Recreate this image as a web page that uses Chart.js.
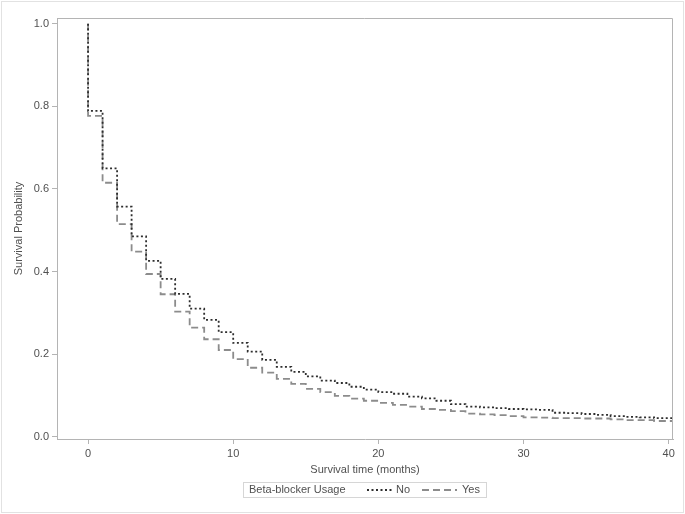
<!DOCTYPE html>
<html>
<head>
<meta charset="utf-8">
<script src="https://cdn.jsdelivr.net/npm/chart.js@4"></script>
<style>
    html, body { margin: 0; padding: 0; background: #fff; }
    #wrap { width: 685px; height: 514px; position: relative; }
</style>
</head>
<body>
<div id="wrap"><canvas id="kmChart" width="685" height="514"></canvas></div>
<script>
// Survival data, one value per month after that month's drop
const months = [0, 1, 2, 3, 4, 5, 6, 7, 8, 9, 10, 11, 12, 13, 14, 15, 16, 17, 18, 19, 20,
    21, 22, 23, 24, 25, 26, 27, 28, 29, 30, 31, 32, 33, 34, 35, 36, 37, 38, 39, 40.3];
const survNo = [0.789, 0.650, 0.557, 0.485, 0.426, 0.382, 0.346, 0.310, 0.283, 0.253, 0.227,
    0.206, 0.186, 0.169, 0.157, 0.146, 0.136, 0.130, 0.121, 0.114, 0.108,
    0.104, 0.097, 0.093, 0.087, 0.079, 0.073, 0.071, 0.069, 0.067, 0.066,
    0.065, 0.058, 0.057, 0.055, 0.053, 0.050, 0.048, 0.047, 0.045, 0.045];
const survYes = [0.777, 0.615, 0.515, 0.448, 0.394, 0.345, 0.303, 0.264, 0.236, 0.210, 0.188,
    0.167, 0.155, 0.140, 0.128, 0.116, 0.108, 0.099, 0.092, 0.087, 0.082,
    0.077, 0.073, 0.067, 0.065, 0.062, 0.056, 0.054, 0.052, 0.050, 0.047,
    0.046, 0.045, 0.045, 0.044, 0.044, 0.042, 0.040, 0.040, 0.038, 0.038];
const startSurv = 1.0;

const xTicks = [0, 10, 20, 30, 40];
const yTicks = [0.0, 0.2, 0.4, 0.6, 0.8, 1.0];

const groupTitle = 'Beta-blocker Usage';
const groupNames = ['No', 'Yes'];

const axisColor = '#b4b4b4';
const textColor = '#505050';
const fontFamily = '"Liberation Sans", Arial, sans-serif';

function toPoints(values) {
    const pts = [{ x: 0, y: startSurv }];
    months.forEach((m, i) => pts.push({ x: m, y: values[i] }));
    return pts;
}

// Frame around plot area, page border and the boxed legend
const decorPlugin = {
    id: 'decor',
    beforeDraw(chart) {
        const ctx = chart.ctx;
        ctx.save();
        ctx.strokeStyle = '#e2e2e2';
        ctx.lineWidth = 1;
        ctx.strokeRect(1.5, 1.5, 682, 511);
        ctx.restore();
    },
    afterDraw(chart) {
        const ctx = chart.ctx;
        const a = chart.chartArea;
        ctx.save();
        ctx.strokeStyle = axisColor;
        ctx.lineWidth = 1;
        ctx.beginPath();
        ctx.moveTo(a.left, a.top + 0.5);
        ctx.lineTo(a.right - 0.5, a.top + 0.5);
        ctx.lineTo(a.right - 0.5, a.bottom);
        ctx.stroke();

        // legend
        ctx.strokeStyle = '#d6d6d6';
        ctx.strokeRect(243.5, 482.5, 243, 15);
        ctx.fillStyle = textColor;
        ctx.font = '11px ' + fontFamily;
        ctx.textBaseline = 'middle';
        ctx.fillText(groupTitle, 249, 490);

        const ds = chart.data.datasets;
        const samples = [[367, 392, 396], [422, 457, 462]];
        ds.forEach((d, i) => {
            const s = samples[i];
            ctx.strokeStyle = d.borderColor;
            ctx.lineWidth = d.borderWidth;
            ctx.setLineDash(d.borderDash);
            ctx.beginPath();
            ctx.moveTo(s[0], 490);
            ctx.lineTo(s[1], 490);
            ctx.stroke();
            ctx.setLineDash([]);
            ctx.fillText(d.label, s[2], 490);
        });
        ctx.restore();
    }
};

new Chart(document.getElementById('kmChart'), {
    type: 'line',
    data: {
        datasets: [{
            label: groupNames[0],
            data: toPoints(survNo),
            borderColor: '#2e2e2e',
            borderWidth: 1.8,
            borderDash: [2, 2.5],
            stepped: 'before',
            pointRadius: 0,
            fill: false
        }, {
            label: groupNames[1],
            data: toPoints(survYes),
            borderColor: '#8c8c8c',
            borderWidth: 1.8,
            borderDash: [7, 4],
            stepped: 'before',
            pointRadius: 0,
            fill: false
        }]
    },
    options: {
        responsive: false,
        animation: false,
        layout: { padding: { top: 18, right: 12, bottom: 37, left: 0 } },
        plugins: {
            legend: { display: false },
            tooltip: { enabled: false }
        },
        scales: {
            x: {
                type: 'linear',
                min: -2.14,
                max: 40.3,
                afterBuildTicks: scale => { scale.ticks = xTicks.map(v => ({ value: v })); },
                afterFit: scale => { scale.height = 38; },
                grid: { drawOnChartArea: false, drawTicks: true, tickLength: 5, color: axisColor },
                border: { color: axisColor },
                ticks: { color: textColor, font: { family: fontFamily, size: 11 }, padding: 3, maxRotation: 0 },
                title: {
                    display: true,
                    text: 'Survival time (months)',
                    color: textColor,
                    font: { family: fontFamily, size: 11 },
                    padding: { top: 0, bottom: 0 }
                }
            },
            y: {
                type: 'linear',
                min: -0.0056,
                max: 1.014,
                afterBuildTicks: scale => { scale.ticks = yTicks.map(v => ({ value: v })); },
                afterFit: scale => { scale.width = 57; },
                grid: { drawOnChartArea: false, drawTicks: true, tickLength: 5, color: axisColor },
                border: { color: axisColor },
                ticks: {
                    color: textColor,
                    font: { family: fontFamily, size: 11 },
                    padding: 3,
                    callback: v => v.toFixed(1)
                },
                title: {
                    display: true,
                    text: 'Survival Probability',
                    color: textColor,
                    font: { family: fontFamily, size: 11 },
                    padding: { top: 12, bottom: 0 }
                }
            }
        }
    },
    plugins: [decorPlugin]
});
</script>
</body>
</html>
